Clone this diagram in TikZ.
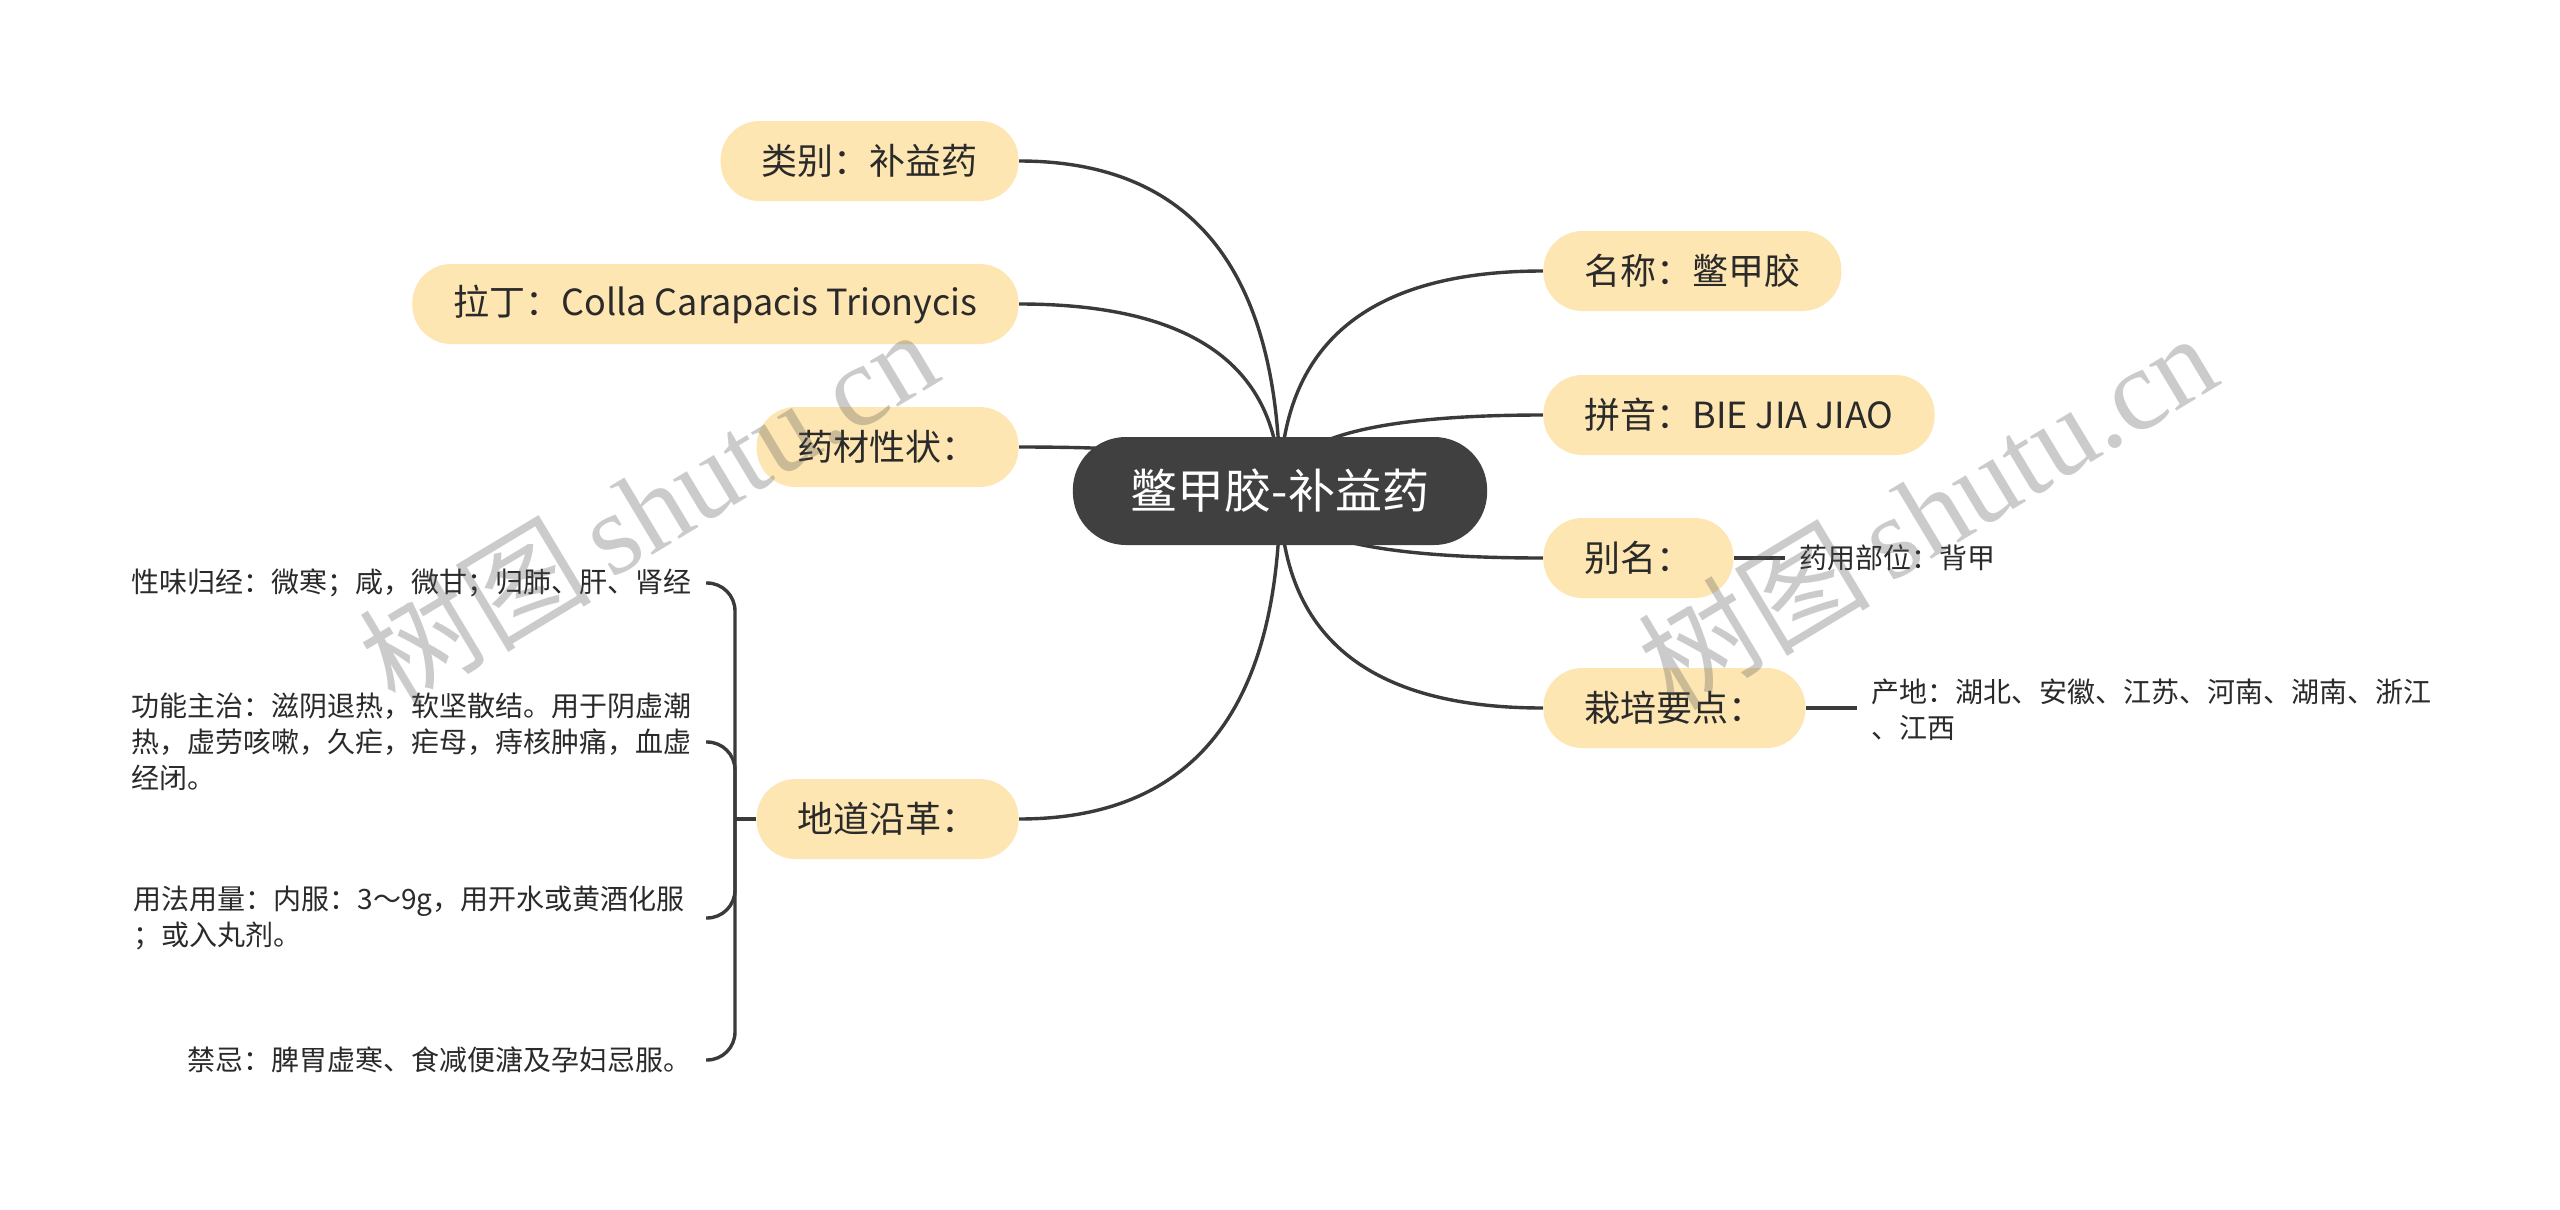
\documentclass[tikz,border=0pt]{standalone}
\usepackage{fontspec}
\setmainfont{Noto Sans CJK SC}
\newfontfamily\wmserif{Liberation Serif}
\usetikzlibrary{calc,backgrounds}
\definecolor{yel}{HTML}{FDE6B2}
\definecolor{rootc}{HTML}{404040}
\definecolor{linec}{HTML}{3A3A3A}
\definecolor{txt}{HTML}{2A2A2A}
\definecolor{wmc}{HTML}{555555}
\begin{document}
\begin{tikzpicture}[x=0.5pt,y=-0.5pt,
  topic/.style={fill=yel, rounded corners=19.5pt, minimum height=40pt, inner xsep=20.5pt, inner ysep=0pt, text=txt, font=\fontsize{18}{22}\selectfont},
  rootn/.style={fill=rootc, rounded corners=26.5pt, minimum height=54pt, inner xsep=29pt, inner ysep=0pt, text=white, font=\fontsize{23.5}{28}\selectfont},
  leaf/.style={inner xsep=7pt, inner ysep=2pt, text=txt, font=\fontsize{14}{18}\selectfont},
  conn/.style={draw=linec, line width=1.7pt},
  curve/.style={to path={(\tikztostart) .. controls ($(\tikztostart)!0.667!(\tikztostart |- \tikztotarget)$) and ($(\tikztotarget)!0.667!(\tikztostart |- \tikztotarget)$) .. (\tikztotarget)}},
  wmark/.style={text=wmc, text opacity=0.3, font=\fontsize{58}{64}\selectfont, inner sep=0pt}
]
\useasboundingbox (0,0) rectangle (2560,1210);

% root
\node[rootn] (root) at (1280,491) {鳖甲胶-补益药};

% left topics
\node[topic, anchor=east] (lb) at (1019,161) {类别：补益药};
\node[topic, anchor=east] (ld) at (1019,304) {拉丁：Colla Carapacis Trionycis};
\node[topic, anchor=east] (xz) at (1019,447) {药材性状：};
\node[topic, anchor=east] (dd) at (1019,819) {地道沿革：};

% right topics
\node[topic, anchor=west] (mc) at (1543,271) {名称：鳖甲胶};
\node[topic, anchor=west] (py) at (1543,415) {拼音：BIE JIA JIAO};
\node[topic, anchor=west] (bm) at (1543,558) {别名：};
\node[topic, anchor=west] (zp) at (1543,708) {栽培要点：};

% leaves of 地道沿革
\node[leaf, anchor=east] (c1) at (706,583) {性味归经：微寒；咸，微甘；归肺、肝、肾经};
\node[leaf, anchor=east, align=left] (c2) at (706,742) {功能主治：滋阴退热，软坚散结。用于阴虚潮\\热，虚劳咳嗽，久疟，疟母，痔核肿痛，血虚\\经闭。};
\node[leaf, anchor=east, align=left] (c3) at (699,918) {用法用量：内服：3～9g，用开水或黄酒化服\\；或入丸剂。};
\node[leaf, anchor=east] (c4) at (706,1060) {禁忌：脾胃虚寒、食减便溏及孕妇忌服。};
\coordinate (jn) at (735,819);

% right leaves
\node[leaf, anchor=west] (r1) at (1785,558) {药用部位：背甲};
\node[leaf, anchor=west, align=left] (r2) at (1857,710) {产地：湖北、安徽、江苏、河南、湖南、浙江\\、江西};

\begin{scope}[on background layer]
  \fill[white] (0,0) rectangle (2560,1210);
  \draw[conn] (root.center) to[curve] (lb.east);
  \draw[conn] (root.center) to[curve] (ld.east);
  \draw[conn] (root.center) to[curve] (xz.east);
  \draw[conn] (root.center) to[curve] (dd.east);
  \draw[conn] (root.center) to[curve] (mc.west);
  \draw[conn] (root.center) to[curve] (py.west);
  \draw[conn] (root.center) to[curve] (bm.west);
  \draw[conn] (root.center) to[curve] (zp.west);
\end{scope}

\draw[conn] (dd.west) -- (jn);
\draw[conn, rounded corners=14pt] (c1.east) -| (jn);
\draw[conn, rounded corners=14pt] (c2.east) -| (jn);
\draw[conn, rounded corners=14pt] (c3.east -| c1.east) -| (jn);
\draw[conn, rounded corners=14pt] (c4.east) -| (jn);

\draw[conn] (bm.east) -- (r1.west);
\draw[conn] (zp.east) -- (zp.east -| r2.west);

% watermarks
\node[wmark, rotate=31] (wm1) at (648,506) {树图\,{\wmserif shutu.cn}};
\node[wmark, rotate=31] (wm2) at (1927,510) {树图\,{\wmserif shutu.cn}};
\end{tikzpicture}
\end{document}
